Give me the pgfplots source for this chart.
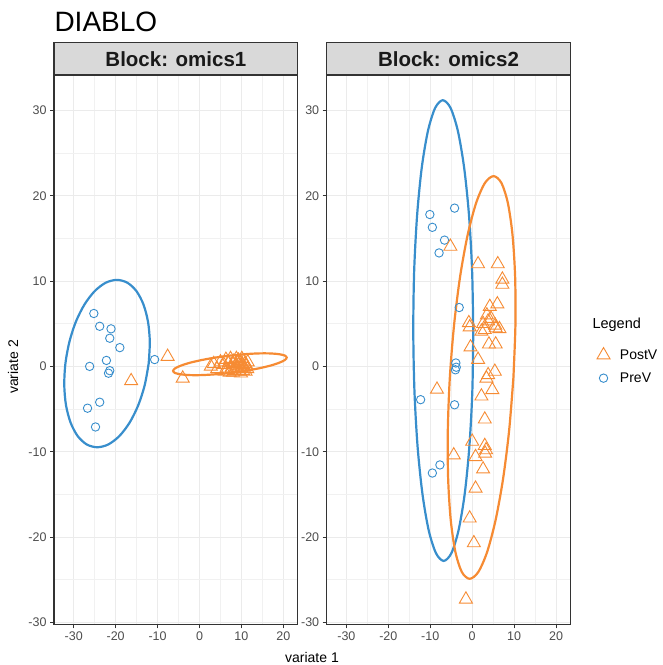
\documentclass[border=0pt]{standalone}
\usepackage{fontspec}
\setmainfont{Liberation Sans}
\usepackage{pgfplots}
\pgfplotsset{compat=1.18}
\definecolor{mixblue}{HTML}{388ECC}
\definecolor{mixorange}{HTML}{F68B33}
\definecolor{gridc}{HTML}{EBEBEB}
\definecolor{gray20}{HTML}{333333}
\definecolor{gray30}{HTML}{4D4D4D}
\definecolor{stripc}{HTML}{D9D9D9}
\pgfplotsset{
 panel/.style={
  scale only axis, width=243.6bp, height=549.6bp, anchor=south west,
  xmin=-34.7, xmax=23.4, ymin=-30.23, ymax=34.19,
  xtick={-30,-20,...,20}, ytick={-30,-20,...,30},
  minor xtick={-25,-15,...,15}, minor ytick={-25,-15,...,25},
  grid=both,
  major grid style={gridc, line width=0.9bp},
  minor grid style={gridc!70!white, line width=0.5bp},
  axis line style={gray20, line width=1.1bp},
  tick align=outside, major tick length=4bp, minor tick length=0pt,
  tick style={gray20, line width=0.9bp},
  xtick pos=left, ytick pos=left,
  ticklabel style={font=\fontsize{12.5bp}{14bp}\selectfont, text=gray30},
  /pgf/number format/assume math mode=true,
 },
 pre/.style={only marks, mark=o, mark size=4.2bp, mixblue, line width=0.9bp},
 post/.style={only marks, mark=triangle, mark size=7.5bp, mixorange, line width=0.9bp},
 ell/.style={no marks, smooth, line width=2.2bp},
}
\begin{document}
\begin{tikzpicture}
\useasboundingbox (0,0) rectangle (663bp,665bp);
% ---------- panel 1 ----------
\begin{axis}[panel, at={(54bp,40.7bp)}]
\addplot[pre] coordinates {
(-25.2,6.2) (-23.8,4.7) (-21.1,4.4) (-21.4,3.3) (-19.0,2.2) (-22.2,0.7)
(-26.2,0.0) (-21.4,-0.5) (-21.7,-0.8) (-10.7,0.8) (-23.8,-4.2) (-26.7,-4.9) (-24.8,-7.1)};
\addplot[post] coordinates {
(-7.6,1.15) (-16.3,-1.7) (-4.0,-1.4)
(2.7,0.0) (4.2,-0.3) (5.0,0.5) (5.8,0.2) (6.3,0.8) (6.6,-0.4) (7.0,0.4) (7.4,0.9)
(7.6,-0.2) (7.9,0.3) (8.2,0.6) (8.4,-0.5) (8.6,0.1) (8.8,0.9) (9.0,-0.3) (9.1,0.4)
(9.3,0.7) (9.5,-0.6) (9.6,0.0) (9.8,0.5) (10.0,-0.2) (10.1,0.9) (10.3,0.2) (10.4,-0.5)
(10.6,0.6) (10.7,-0.1) (10.9,0.3) (11.0,-0.6) (11.2,0.1) (11.4,-0.3) (8.0,-0.7)
(9.9,-0.8) (6.0,-0.6) (3.4,0.3) (7.2,-0.7) (11.5,0.5)};
\addplot[ell, mixblue] coordinates {
(-12.12,0.33) (-13.07,-2.21) (-14.63,-4.58) (-16.69,-6.61) (-19.12,-8.17) (-21.75,-9.15)
(-24.40,-9.48) (-26.89,-9.15) (-29.05,-8.17) (-30.73,-6.61) (-31.83,-4.58) (-32.25,-2.21)
(-31.98,0.33) (-31.03,2.87) (-29.48,5.24) (-27.41,7.27) (-24.98,8.83) (-22.35,9.81)
(-19.70,10.14) (-17.21,9.81) (-15.05,8.83) (-13.37,7.27) (-12.28,5.24) (-11.85,2.87) (-12.12,0.33)};
\addplot[ell, mixorange] coordinates {
(7.25,1.265) (3.74,1.03) (0.475,0.74) (-2.33,0.42) (-4.48,0.08) (-5.84,-0.24)
(-6.30,-0.53) (-5.84,-0.77) (-4.48,-0.93) (-2.33,-1.02) (0.475,-1.02) (3.74,-0.93)
(7.25,-0.765) (10.76,-0.53) (14.03,-0.24) (16.83,0.08) (18.98,0.42) (20.34,0.74)
(20.80,1.03) (20.34,1.27) (18.98,1.43) (16.83,1.52) (14.03,1.52) (10.76,1.43) (7.25,1.265)};
\end{axis}
% ---------- panel 2 ----------
\begin{axis}[panel, at={(326.7bp,40.7bp)},
  legend style={at={(axis description cs:1.105,0.504)}, anchor=north west, draw=none, fill=none,
    font=\fontsize{14bp}{16bp}\selectfont, row sep=8bp, inner sep=0pt},
  legend image code/.code={\draw[#1] plot coordinates {(0bp,0bp)}; \path (-7bp,0bp) (14bp,0bp);},
  legend cell align=left]
\addlegendimage{post}\addlegendentry{PostV}
\addlegendimage{pre}\addlegendentry{PreV}
\addplot[pre, forget plot] coordinates {
(-4.2,18.55) (-10.1,17.8) (-9.5,16.3) (-6.6,14.8) (-7.9,13.3) (-3.1,6.9) (-3.9,0.4)
(-3.8,-0.1) (-4.0,-0.4) (-12.3,-3.9) (-4.2,-4.5) (-7.7,-11.55) (-9.5,-12.5)};
\addplot[post, forget plot] coordinates {
(-5.2,14.05) (1.4,12.0) (6.1,12.0) (7.2,10.2) (7.2,9.6) (6.0,7.3) (4.2,7.0) (3.5,6.0)
(-0.8,5.1) (-0.6,4.6) (2.6,5.0) (3.8,5.3) (5.5,4.8) (4.5,5.6) (6.5,4.4) (3.0,4.3)
(5.6,4.5) (2.2,4.1) (4.0,2.6) (5.6,2.6) (-0.4,2.25) (1.4,0.8) (5.4,-0.6) (3.4,-1.4)
(4.8,-2.75) (-8.4,-2.7) (2.2,-3.5) (3.0,-6.2) (0.0,-8.8) (3.0,-9.3) (3.3,-9.8)
(3.1,-10.2) (-4.4,-10.4) (0.8,-10.6) (2.6,-12.05) (0.8,-14.3) (-0.6,-17.8) (0.4,-20.7)
(-1.5,-27.3) (3.8,-1.0)};
\addplot[ell, mixblue, forget plot] coordinates {
(0.25,4.20) (0.04,-2.79) (-0.66,-9.30) (-1.77,-14.89) (-3.24,-19.18) (-4.95,-21.88)
(-6.80,-22.80) (-8.65,-21.88) (-10.39,-19.18) (-11.88,-14.89) (-13.04,-9.30) (-13.78,-2.79)
(-14.05,4.20) (-13.84,11.19) (-13.14,17.70) (-12.03,23.29) (-10.56,27.58) (-8.85,30.28)
(-7.00,31.20) (-5.15,30.28) (-3.41,27.58) (-1.92,23.29) (-0.76,17.70) (-0.02,11.19) (0.25,4.20)};
\addplot[ell, mixorange, forget plot] coordinates {
(9.83,-1.30) (8.83,-7.41) (7.39,-13.10) (5.59,-17.99) (3.57,-21.74) (1.46,-24.10)
(-0.60,-24.90) (-2.47,-24.10) (-4.01,-21.74) (-5.12,-17.99) (-5.74,-13.10) (-5.81,-7.41)
(-5.33,-1.30) (-4.33,4.81) (-2.89,10.50) (-1.09,15.39) (0.93,19.14) (3.04,21.50)
(5.10,22.30) (6.97,21.50) (8.51,19.14) (9.62,15.39) (10.24,10.50) (10.31,4.81) (9.83,-1.30)};
\end{axis}
% ---------- strips, titles, labels ----------
\draw[gray20, line width=1.1bp, fill=stripc] (54bp,590bp) rectangle (297.7bp,622.3bp);
\draw[gray20, line width=1.1bp, fill=stripc] (326.7bp,590bp) rectangle (570.3bp,622.3bp);
\node[font=\bfseries\fontsize{20.5bp}{22bp}\selectfont, text={black!90}] at (175.9bp,606.2bp) {Block: omics1};
\node[font=\bfseries\fontsize{20.5bp}{22bp}\selectfont, text={black!90}] at (448.5bp,606.2bp) {Block: omics2};
\node[anchor=base west, font=\fontsize{28bp}{30bp}\selectfont] at (51bp,633bp) {DIABLO};
\node[anchor=base, font=\fontsize{14bp}{16bp}\selectfont] at (312bp,3bp) {variate 1};
\node[rotate=90, font=\fontsize{14bp}{16bp}\selectfont] at (13bp,298bp) {variate 2};
\node[anchor=west, font=\fontsize{14.5bp}{16bp}\selectfont] at (589bp,340bp) {Legend};
\end{tikzpicture}
\end{document}
